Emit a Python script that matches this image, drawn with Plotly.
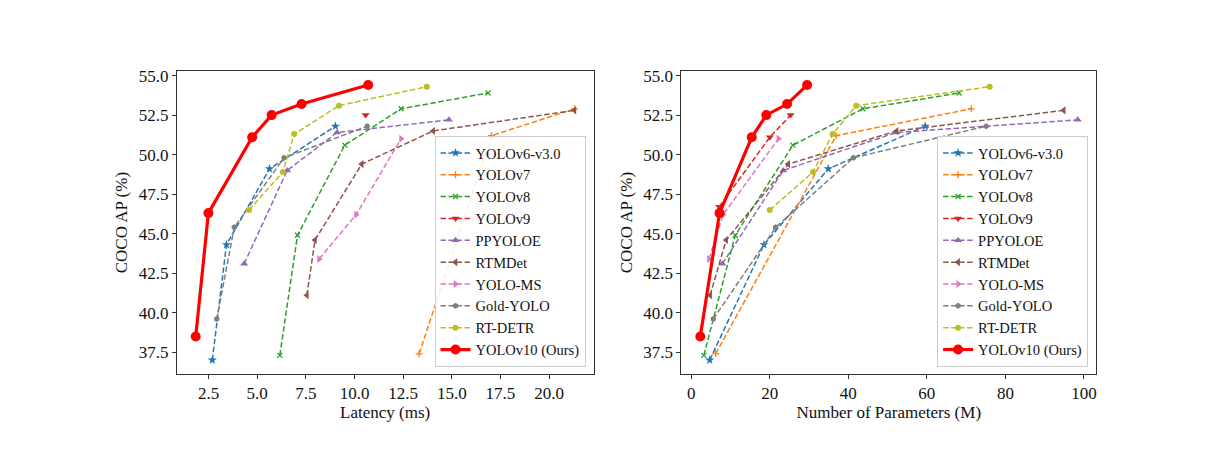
import plotly.graph_objects as go

# ---------------- data ----------------
names = ["YOLOv6-v3.0", "YOLOv7", "YOLOv8", "YOLOv9", "PPYOLOE", "RTMDet",
         "YOLO-MS", "Gold-YOLO", "RT-DETR", "YOLOv10 (Ours)"]

yolov6_lat = [2.69, 3.42, 5.63, 9.02]
yolov6_par = [4.7, 18.5, 34.9, 59.6]
yolov6_ap = [37.0, 44.3, 49.1, 51.8]

yolov7_lat = [13.32, 17.04, 21.31]
yolov7_par = [6.2, 36.9, 71.3]
yolov7_ap = [37.4, 51.2, 52.9]

yolov8_lat = [6.16, 7.07, 9.50, 12.39, 16.86]
yolov8_par = [3.2, 11.2, 25.9, 43.7, 68.2]
yolov8_ap = [37.3, 44.9, 50.6, 52.9, 53.9]

yolov9_lat = [10.57]
yolov9_lat_ap = [52.5]
yolov9_par = [7.1, 20.0, 25.3]
yolov9_ap = [46.7, 51.1, 52.5]

ppyoloe_lat = [4.33, 6.54, 9.10, 14.85]
ppyoloe_par = [7.93, 23.43, 52.2, 98.42]
ppyoloe_ap = [43.1, 49.0, 51.4, 52.2]

rtmdet_lat = [7.55, 7.97, 10.37, 14.04, 21.30]
rtmdet_par = [4.8, 8.89, 24.71, 52.3, 94.86]
rtmdet_ap = [41.1, 44.6, 49.4, 51.5, 52.8]

yoloms_lat = [8.18, 10.08, 12.39]
yoloms_par = [4.5, 8.1, 22.2]
yoloms_ap = [43.4, 46.2, 51.0]

gold_lat = [2.92, 3.82, 6.38, 10.65]
gold_par = [5.6, 21.5, 41.3, 75.1]
gold_ap = [39.6, 45.4, 49.8, 51.8]

rtdetr_lat = [4.58, 6.32, 6.90, 9.20, 13.71]
rtdetr_par = [20.0, 31.0, 36.0, 42.0, 76.0]
rtdetr_ap = [46.5, 48.9, 51.3, 53.1, 54.3]

yolov10_lat = [1.84, 2.49, 4.74, 5.74, 7.28, 10.70]
yolov10_par = [2.3, 7.2, 15.4, 19.1, 24.4, 29.5]
yolov10_ap = [38.5, 46.3, 51.1, 52.5, 53.2, 54.4]

left_x = [yolov6_lat, yolov7_lat, yolov8_lat, yolov9_lat, ppyoloe_lat, rtmdet_lat,
          yoloms_lat, gold_lat, rtdetr_lat, yolov10_lat]
left_y = [yolov6_ap, yolov7_ap, yolov8_ap, yolov9_lat_ap, ppyoloe_ap, rtmdet_ap,
          yoloms_ap, gold_ap, rtdetr_ap, yolov10_ap]
right_x = [yolov6_par, yolov7_par, yolov8_par, yolov9_par, ppyoloe_par, rtmdet_par,
           yoloms_par, gold_par, rtdetr_par, yolov10_par]
right_y = [yolov6_ap, yolov7_ap, yolov8_ap, yolov9_ap, ppyoloe_ap, rtmdet_ap,
           yoloms_ap, gold_ap, rtdetr_ap, yolov10_ap]

# ---------------- style ----------------
colors = ["#1f77b4", "#ff7f0e", "#2ca02c", "#d62728", "#9467bd", "#8c564b",
          "#e377c2", "#7f7f7f", "#bcbd22", "#ff0000"]
symbols = ["star", "cross-thin", "x-thin", "triangle-down", "triangle-up",
           "triangle-left", "triangle-right", "hexagon", "circle", "circle"]
msizes = [7, 5, 5, 7, 7, 7, 7, 6, 6, 10]

FONT = "Liberation Serif, Times New Roman, serif"

W, H, OFF = 1205, 443, 8  # page body margin offset compensation


def px_x(p):
    return (p - OFF) / W


def px_y(p):
    return (H - (p - OFF)) / H


fig = go.Figure()

for xs, ys, xa, ya, lg in [(left_x, left_y, "x", "y", "legend"),
                           (right_x, right_y, "x2", "y2", "legend2")]:
    for i, name in enumerate(names):
        ours = (i == len(names) - 1)
        thin = symbols[i].endswith("-thin")
        fig.add_trace(go.Scatter(
            x=xs[i], y=ys[i], name=name, mode="lines+markers",
            xaxis=xa, yaxis=ya, legend=lg,
            line=dict(color=colors[i], width=3.2 if ours else 1.5,
                      dash="solid" if ours else "5.5px,2.5px"),
            marker=dict(symbol=symbols[i], size=msizes[i], color=colors[i],
                        line=dict(color=colors[i], width=1.3 if thin else 0)),
        ))

axis_common = dict(
    showgrid=False, zeroline=False, showline=True, mirror=True,
    linecolor="#333333", linewidth=1, ticks="outside", ticklen=4,
    tickcolor="#333333", tickfont=dict(family=FONT, size=17, color="#111"),
    title_font=dict(family=FONT, size=17, color="#111"),
)

ydom = [px_y(373), px_y(67)]
legend_common = dict(xanchor="right", yanchor="bottom",
                     bgcolor="rgba(255,255,255,0.85)", bordercolor="#cccccc",
                     borderwidth=1, font=dict(family=FONT, size=14.5, color="#111"))

fig.update_layout(
    width=W, height=H, margin=dict(l=0, r=0, t=0, b=0),
    paper_bgcolor="white", plot_bgcolor="white",
    xaxis=dict(domain=[px_x(177), px_x(594)], range=[0.87, 22.28],
               tick0=0, dtick=2.5, tickformat=".1f",
               title=dict(text="Latency (ms)", standoff=1), anchor="y", **axis_common),
    yaxis=dict(domain=ydom, range=[36.13, 55.27], tick0=0, dtick=2.5,
               tickformat=".1f", title=dict(text="COCO AP (%)", standoff=6),
               anchor="x", **axis_common),
    xaxis2=dict(domain=[px_x(682), px_x(1097)], range=[-2.5, 103.1],
                tick0=0, dtick=20,
                title=dict(text="Number of Parameters (M)", standoff=1), anchor="y2",
                **axis_common),
    yaxis2=dict(domain=ydom, range=[36.13, 55.27], tick0=0, dtick=2.5,
                tickformat=".1f", title=dict(text="COCO AP (%)", standoff=6),
                anchor="x2", **axis_common),
    legend=dict(x=px_x(586), y=px_y(366), **legend_common),
    legend2=dict(x=px_x(1089), y=px_y(366), **legend_common),
    showlegend=True,
)

fig.write_html("out.html")
